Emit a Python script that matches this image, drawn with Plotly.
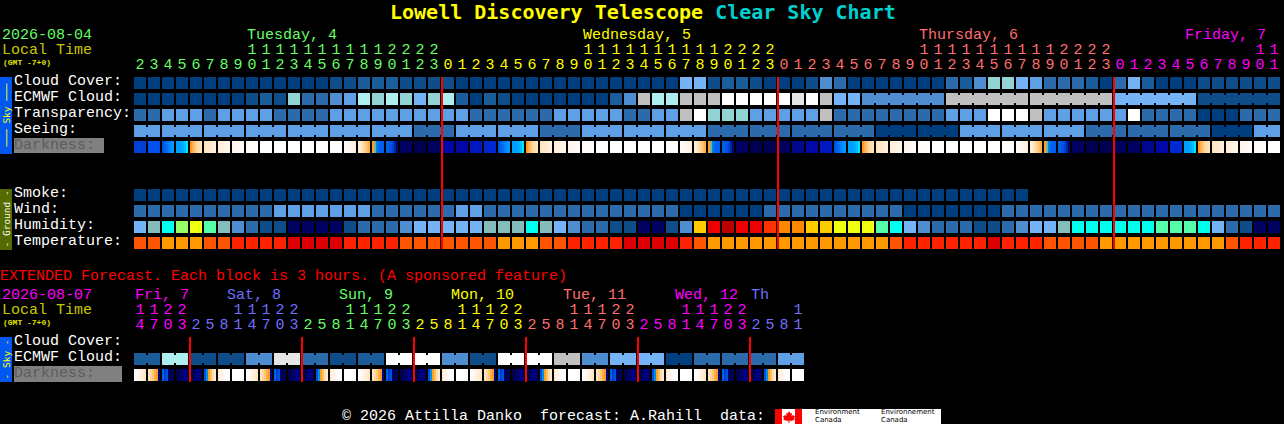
import plotly.graph_objects as go

# Colour levels used by the block rows
PALETTE = ['#003f7f', '#0e4c8a', '#1b5c9a', '#2c6bab', '#4d8dd0', '#5f9fe6', '#75b3f7', '#92d4d4',
           '#aeeeee', '#c0c0c0', '#e6e6e6', '#ffffff', '#85bdbd', '#00ffee', '#99ff66', '#eeff11',
           '#55ffaa', '#000060', '#ffcc00', '#ee0000', '#bb0000', '#ff3300', '#ff8800', '#ff5500',
           '#ff9900', '#ff2200', '#dd0000']

# Main forecast, one block per hour
HOURS = [2, 3, 4, 5, 6, 7, 8, 9, 10, 11, 12, 13, 14, 15, 16, 17, 18, 19, 20, 21, 22, 23,
         0, 1, 2, 3, 4, 5, 6, 7, 8, 9, 10, 11, 12, 13, 14, 15, 16, 17, 18, 19, 20, 21, 22, 23,
         0, 1, 2, 3, 4, 5, 6, 7, 8, 9, 10, 11, 12, 13, 14, 15, 16, 17, 18, 19, 20, 21, 22, 23,
         0, 1, 2, 3, 4, 5, 6, 7, 8, 9, 10, 11]
CLOUD = [0, 0, 0, 0, 0, 0, 0, 0, 0, 0, 0, 0, 0, 0, 1, 1, 2, 2, 2, 1, 1, 1,
         1, 0, 0, 0, 0, 0, 0, 0, 0, 0, 0, 0, 0, 0, 0, 0, 0, 6, 6, 1, 2, 2, 1, 0,
         0, 0, 1, 4, 3, 0, 0, 0, 0, 0, 0, 0, 3, 2, 4, 7, 7, 6, 5, 3, 3, 3, 2, 0,
         3, 6, 2, 0, 0, 0, 1, 1, 1, 1, 1, 1]
ECMWF = [0, 0, 0, 0, 0, 0, 0, 0, 1, 2, 1, 7, 3, 3, 4, 5, 8, 7, 8, 7, 6, 7,
         8, 2, 0, 2, 1, 0, 0, 0, 0, 0, 0, 0, 2, 4, 9, 8, 8, 9, 9, 9, 11, 11, 11, 11,
         11, 10, 11, 9, 6, 6, 4, 4, 4, 4, 4, 4, 9, 9, 9, 9, 9, 9, 9, 9, 9, 9, 9, 9,
         6, 6, 6, 6, 6, 6, 1, 1, 1, 1, 1, 1]
TRANSPARENCY = [3, 3, 5, 5, 5, 3, 5, 5, 5, 5, 3, 3, 3, 3, 5, 5, 5, 5, 5, 5, 5, 5,
                5, 5, 3, 3, 3, 3, 3, 3, 5, 5, 5, 5, 5, 3, 3, 5, 5, 9, 11, 7, 7, 7, 5, 5,
                5, 5, 5, 9, 3, 3, 3, 3, 3, 3, 3, 3, 5, 5, 5, 11, 11, 11, 9, 5, 5, 5, 5, 5,
                5, 11, 3, 3, 3, 3, 0, 0, 0, 3, 3, 3]
SEEING = [5, 5, 5, 5, 5, 5, 5, 5, 5, 5, 5, 5, 5, 5, 5, 5, 5, 5, 5, 5, 3, 3,
          3, 5, 5, 5, 5, 5, 5, 3, 3, 3, 5, 5, 5, 5, 5, 5, 5, 5, 5, 3, 3, 3, 3, 3,
          3, 3, 3, 3, 3, 3, 3, 0, 0, 0, 0, 0, 0, 5, 5, 5, 5, 5, 5, 5, 5, 5, 3, 3,
          3, 3, 3, 3, 3, 3, 3, 0, 0, 0, 5, 5]
DARKNESS = ['d6', 'd7', 'b3', 'b4', 'o1', 'c2', 'c3', 'c4', 'c5', 'w', 'w', 'w', 'w', 'w', 'r5', 'r4', 'r2', 'o2', 'b5', 'd1', 'd0', 'd1',
            'd3', 'd3', 'd4', 'd5', 'b3', 'b4', 'o1', 'c2', 'c3', 'c4', 'c5', 'w', 'w', 'w', 'w', 'w', 'r5', 'r4', 'r2', 'o2', 'b5', 'd1', 'd0', 'd0',
            'd1', 'd2', 'd3', 'd4', 'b3', 'b4', 'o1', 'c2', 'c3', 'c4', 'c5', 'w', 'w', 'w', 'w', 'w', 'r5', 'r4', 'r2', 'o2', 'b5', 'd1', 'd0', 'd0',
            'd1', 'd1', 'd2', 'd3', 'd5', 'b4', 'o1', 'c2', 'c3', 'c4', 'c5', 'w']
SMOKE = [0, 0, 0, 0, 0, 0, 0, 0, 0, 0, 0, 0, 0, 0, 0, 0, 0, 0, 0, 0, 0, 0,
         0, 0, 0, 0, 0, 0, 0, 0, 0, 0, 0, 0, 0, 0, 0, 0, 0, 0, 0, 0, 0, 0, 0, 0,
         0, 0, 0, 0, 0, 0, 0, 0, 0, 0, 0, 0, 0, 0, 0, 0, 0, 0]
WIND = [3, 3, 3, 3, 3, 3, 3, 3, 3, 3, 5, 5, 5, 5, 5, 5, 5, 3, 3, 3, 3, 3,
        3, 5, 5, 3, 3, 3, 3, 3, 3, 3, 3, 3, 3, 3, 3, 3, 3, 0, 0, 0, 0, 0, 0, 3,
        3, 3, 3, 3, 3, 3, 3, 3, 3, 0, 0, 0, 0, 0, 0, 0, 3, 3, 3, 3, 3, 3, 3, 3,
        3, 3, 3, 3, 3, 3, 3, 3, 3, 3, 3, 3]
HUMIDITY = [6, 12, 13, 14, 15, 16, 12, 4, 3, 1, 1, 17, 17, 17, 17, 1, 3, 3, 3, 4, 6, 6,
            6, 6, 6, 12, 12, 12, 13, 12, 6, 4, 3, 3, 1, 1, 17, 17, 1, 4, 18, 19, 20, 19, 19, 21,
            22, 22, 18, 18, 15, 15, 15, 16, 13, 6, 4, 3, 3, 3, 1, 1, 3, 4, 6, 6, 12, 13, 13, 13,
            13, 13, 13, 16, 16, 16, 13, 6, 3, 1, 17, 17]
TEMPERATURE = [23, 23, 24, 24, 24, 23, 23, 25, 25, 25, 25, 26, 26, 26, 26, 25, 25, 25, 25, 23, 23, 23,
               23, 23, 23, 23, 24, 24, 24, 23, 23, 25, 25, 25, 25, 26, 26, 26, 26, 25, 23, 24, 24, 24, 24, 24,
               24, 24, 24, 24, 24, 24, 24, 24, 23, 25, 25, 25, 25, 25, 25, 26, 25, 25, 25, 23, 23, 23, 23, 24,
               24, 24, 24, 24, 24, 24, 24, 24, 23, 25, 25, 25]

# Extended forecast, one block per 3 hours
EXT_HOURS = [14, 17, 20, 23, 2, 5, 8, 11, 14, 17, 20, 23, 2, 5, 8, 11, 14, 17, 20, 23, 2, 5, 8, 11,
             14, 17, 20, 23, 2, 5, 8, 11, 14, 17, 20, 23, 2, 5, 8, 11, 14, 17, 20, 23, 2, 5, 8, 11]
EXT_DAYS = [0, 0, 0, 0, 1, 1, 1, 1, 1, 1, 1, 1, 2, 2, 2, 2, 2, 2, 2, 2, 3, 3, 3, 3,
            3, 3, 3, 3, 4, 4, 4, 4, 4, 4, 4, 4, 5, 5, 5, 5, 5, 5, 5, 5, 6, 6, 6, 6]
EXT_ECMWF = [2, 2, 8, 8, 1, 1, 1, 1, 4, 4, 10, 10, 3, 3, 1, 1, 2, 2, 11, 11, 11, 11, 4, 4,
             1, 1, 11, 11, 11, 11, 9, 9, 4, 4, 6, 6, 6, 6, 0, 0, 3, 3, 3, 3, 3, 3, 5, 5]
EXT_DARKNESS = ['x0', 'x1', 'x2', 'x3', 'x3', 'x4', 'x5', 'w', 'x0', 'x1', 'x2', 'x3', 'x3', 'x4', 'x5', 'w',
                'x0', 'x1', 'x2', 'x3', 'x3', 'x4', 'x5', 'w', 'x0', 'x1', 'x2', 'x3', 'x3', 'x4', 'x5', 'w',
                'x0', 'x1', 'x2', 'x3', 'x3', 'x4', 'x5', 'w', 'x0', 'x1', 'x2', 'x3', 'x3', 'x4', 'x5', 'w']

# Each darkness block is painted as six thin slices
SLICES = {
    'w': ['#ffffff'] * 6,
    'c2': ['#ffe4bc', '#ffe7c4', '#ffe9ca', '#ffebd0', '#ffedd6', '#ffefda'],
    'c3': ['#ffeeda', '#fff0de', '#fff1e2', '#fff3e6', '#fff4ea', '#fff6ec'],
    'c4': ['#fff5ec', '#fff7f0', '#fff8f2', '#fff9f4', '#fffaf6', '#fffbf8'],
    'c5': ['#fffbf8', '#fffcfa', '#fffdfb', '#fffefd', '#fffefe', '#ffffff'],
    'r5': ['#ffffff', '#fffefe', '#fffefd', '#fffdfb', '#fffcfa', '#fffbf8'],
    'r4': ['#fffbf8', '#fff9f4', '#fff7f0', '#fff5ec', '#fff3e6', '#fff0de'],
    'r2': ['#ffeeda', '#ffe8c8', '#ffdcaa', '#ffd090', '#ffc070', '#ffac40'],
    'o1': ['#ff9a20', '#ffb04e', '#ffc87e', '#ffd8a0', '#ffdeac', '#ffe2b6'],
    'o2': ['#ffa020', '#78b0a0', '#0080e0', '#0064f0', '#0060f0', '#0060f0'],
    'b3': ['#0050e0', '#0060f0', '#0070f8', '#0080ff', '#0090ff', '#009cff'],
    'b4': ['#00a0ff', '#00a0ff', '#00a4ff', '#00a8ff', '#00c0ff', '#00eaff'],
    'b5': ['#0060f0', '#0058e8', '#0050e0', '#0040d0', '#0020a0', '#000a70'],
    'd0': ['#000050'] * 6,
    'd1': ['#000060'] * 6,
    'd2': ['#000890'] * 6,
    'd3': ['#0008a8'] * 6,
    'd4': ['#0018c0'] * 6,
    'd5': ['#0028d0'] * 6,
    'd6': ['#0040d4'] * 6,
    'd7': ['#0050f0'] * 6,
    'x0': ['#ffffff', '#fffaf4', '#fff6ea', '#fff0de', '#ffecd2', '#ffe6c4'],
    'x1': ['#ffe4bc', '#ffd8a0', '#ffc878', '#ffb040', '#ff9a20', '#000090'],
    'x2': ['#0060f0', '#0040d0', '#0050e0', '#000060', '#000050', '#000050'],
    'x3': ['#000050', '#000050', '#000060', '#000070', '#000090', '#000060'],
    'x4': ['#0050e0', '#0090f0', '#ffa020', '#ffc060', '#ffe0b0', '#ffe8c8'],
    'x5': ['#ffeeda', '#fff3e6', '#fff7f0', '#fffbf8', '#ffffff', '#ffffff'],
}

DAY_COLORS = ['#ff00ff', '#6e6eff', '#66ff66', '#ffff00', '#ff6e6e', '#ff00ff', '#6e6eff']
MAIN_DAY = [2] * 22 + [3] * 24 + [4] * 24 + [5] * 12
DAY_LABELS = [('Tuesday, 4', 247, 2), ('Wednesday, 5', 583, 3), ('Thursday, 6', 919, 4), ('Friday, 7', 1185, 5)]
EXT_DAY_LABELS = [('Fri, 7', 135, 0), ('Sat, 8', 227, 1), ('Sun, 9', 339, 2), ('Mon, 10', 451, 3),
                  ('Tue, 11', 563, 4), ('Wed, 12', 675, 5), ('Th', 751, 6)]
MIDNIGHTS = [442, 778, 1114]
EXT_MIDNIGHTS = [190, 302, 414, 526, 638, 750]
MONO = 'Liberation Mono'

fig = go.Figure()


def left(i):
    return 134 + 14 * i


def add_blocks(levels, y, links=()):
    fig.add_trace(go.Bar(x=[12] * len(levels), base=[left(i) for i in range(len(levels))], y=[y] * len(levels),
                         width=12, orientation='h', marker=dict(color=[PALETTE[v] for v in levels], line_width=0),
                         hoverinfo='skip'))
    if links:
        fig.add_trace(go.Bar(x=[2] * len(links), base=[left(i) + 12 for i in links], y=[y] * len(links),
                             width=8, orientation='h', marker=dict(color=[PALETTE[levels[i]] for i in links], line_width=0),
                             hoverinfo='skip'))


def add_darkness(keys, y):
    bases, colors = [], []
    for i, k in enumerate(keys):
        for j, c in enumerate(SLICES[k]):
            bases.append(left(i) + 2 * j)
            colors.append(c)
    fig.add_trace(go.Bar(x=[2] * len(bases), base=bases, y=[y] * len(bases), width=12, orientation='h',
                         marker=dict(color=colors, line_width=0), hoverinfo='skip'))


def add_digits(hours, day_index, y_tens, y_units):
    xs = [left(i) + 6 for i in range(len(hours))]
    colors = [DAY_COLORS[d] for d in day_index]
    fig.add_trace(go.Scatter(x=xs, y=[y_units] * len(xs), mode='text', text=[str(h % 10) for h in hours],
                             textfont=dict(family=MONO, size=15, color=colors), hoverinfo='skip'))
    tens = [i for i, h in enumerate(hours) if h >= 10]
    fig.add_trace(go.Scatter(x=[xs[i] for i in tens], y=[y_tens] * len(tens), mode='text',
                             text=[str(hours[i] // 10) for i in tens],
                             textfont=dict(family=MONO, size=15, color=[colors[i] for i in tens]),
                             hoverinfo='skip'))


def add_red(xs, y0, y1):
    lx, ly = [], []
    for x in xs:
        lx += [x, x, None]
        ly += [y0, y1, None]
    fig.add_trace(go.Scatter(x=lx, y=ly, mode='lines', line=dict(color='#ff0000', width=2), hoverinfo='skip'))


def label(x, y, text, color='#ffffff', size=15, bold=False, family=MONO, angle=0, anchor='left'):
    if bold:
        text = '<b>' + text + '</b>'
    fig.add_annotation(x=x, y=y, text=text, showarrow=False, xanchor=anchor, yanchor='middle', textangle=angle,
                       font=dict(family=family, size=size, color=color), borderpad=0, borderwidth=0)


def rect(x0, y0, x1, y1, color):
    fig.add_shape(type='rect', x0=x0, y0=y0, x1=x1, y1=y1, fillcolor=color, line_width=0, layer='below')


# Main rows
seeing_links = [i for i in range(81) if (i - 1) % 3 != 0]
ecmwf_links = [i for i in range(52, 81) if (i - 52) % 6 != 5]
add_blocks(CLOUD, 83)
add_blocks(ECMWF, 99, ecmwf_links)
add_blocks(TRANSPARENCY, 115)
add_blocks(SEEING, 131, seeing_links)
add_darkness(DARKNESS, 147)
add_blocks(SMOKE, 195)
add_blocks(WIND, 211)
add_blocks(HUMIDITY, 227)
add_blocks(TEMPERATURE, 243)
add_red(MIDNIGHTS, 77, 249)
add_digits(HOURS, MAIN_DAY, 50, 65)

# Extended rows
add_blocks(EXT_ECMWF, 359, [i for i in range(47) if i % 2 == 0])
add_darkness(EXT_DARKNESS, 375)
add_red(EXT_MIDNIGHTS, 337, 382)
add_digits(EXT_HOURS, EXT_DAYS, 310, 325)

# Title
fig.add_annotation(x=388, y=12, xanchor='left', yanchor='middle', showarrow=False,
                   text='<b><span style="color:#ffff00">Lowell Discovery Telescope</span> '
                        '<span style="color:#00d0d0">Clear Sky Chart</span></b>',
                   font=dict(family='DejaVu Sans Mono', size=20))

# Header text
label(2, 35, '2026-08-04', '#66ff66')
label(2, 50, 'Local Time', '#c8c800')
label(3, 62, '(GMT -7+0)', '#e0e000', size=8, bold=True)
for text, x, d in DAY_LABELS:
    label(x, 35, text, DAY_COLORS[d])
label(2, 295, '2026-08-07', '#ff00ff')
label(2, 310, 'Local Time', '#c8c800')
label(3, 322, '(GMT -7+0)', '#e0e000', size=8, bold=True)
for text, x, d in EXT_DAY_LABELS:
    label(x, 295, text, DAY_COLORS[d])

# Row names
for text, y in [('Cloud Cover:', 81), ('ECMWF Cloud:', 97), ('Transparency:', 113), ('Seeing:', 129),
                ('Smoke:', 193), ('Wind:', 209), ('Humidity:', 225), ('Temperature:', 241),
                ('Cloud Cover:', 341), ('ECMWF Cloud:', 357)]:
    label(14, y, text)
rect(14, 138, 104, 153, '#808080')
label(14, 145, 'Darkness:', '#5c5c5c')
rect(14, 366, 122, 382, '#808080')
label(14, 373, 'Darkness:', '#5c5c5c')

# Side tabs
rect(0, 77, 12, 154, '#0058f0')
label(6, 115.5, '─── Sky ───', '#ffff00', size=9.5, angle=-90, anchor='center', family='DejaVu Sans Mono')
rect(0, 189, 12, 250, '#556b00')
label(6, 219.5, '- Ground -', '#ffffff', size=9.5, angle=-90, anchor='center', family='DejaVu Sans Mono')
rect(0, 337, 12, 382, '#0058f0')
label(6, 359.5, '- Sky -', '#ffff00', size=9.5, angle=-90, anchor='center', family='DejaVu Sans Mono')

# Footer
label(0, 276, 'EXTENDED Forecast. Each block is 3 hours. (A sponsored feature)', '#ff0000')
label(342, 416, '© 2026 Attilla Danko  forecast: A.Rahill  data:')
rect(775, 409, 941, 424, '#ffffff')
rect(775, 409, 782, 424, '#ff0000')
rect(795, 409, 802, 424, '#ff0000')
fig.add_shape(type='path', layer='below', fillcolor='#ff0000', line_width=0,
              path='M789 411 L790.5 413.5 L792 413 L791.5 416 L793 415 L795 416.5 L794 418.5 L795 419.5 L791 421 '
                   'L789.5 420.5 L789.5 423 L788.5 423 L788.5 420.5 L787 421 L783 419.5 L784 418.5 L783 416.5 L785 415 '
                   'L786.5 416 L786 413 L787.5 413.5 Z')
for x, words in [(815, ('Environment', 'Canada')), (881, ('Environnement', 'Canada'))]:
    label(x, 411.5, words[0], '#000000', size=7, family='DejaVu Sans')
    label(x, 419.5, words[1], '#000000', size=7, family='DejaVu Sans')

fig.update_layout(width=1284, height=424, autosize=False, margin=dict(l=0, r=0, t=0, b=0, pad=0),
                  paper_bgcolor='#000000', plot_bgcolor='#000000', showlegend=False, barmode='overlay',
                  xaxis=dict(range=[0, 1284], visible=False, fixedrange=True),
                  yaxis=dict(range=[424, 0], visible=False, fixedrange=True))

fig.write_html("out.html", config={'displayModeBar': False},
               post_script="document.body.style.margin='0';document.body.style.background='#000';")
